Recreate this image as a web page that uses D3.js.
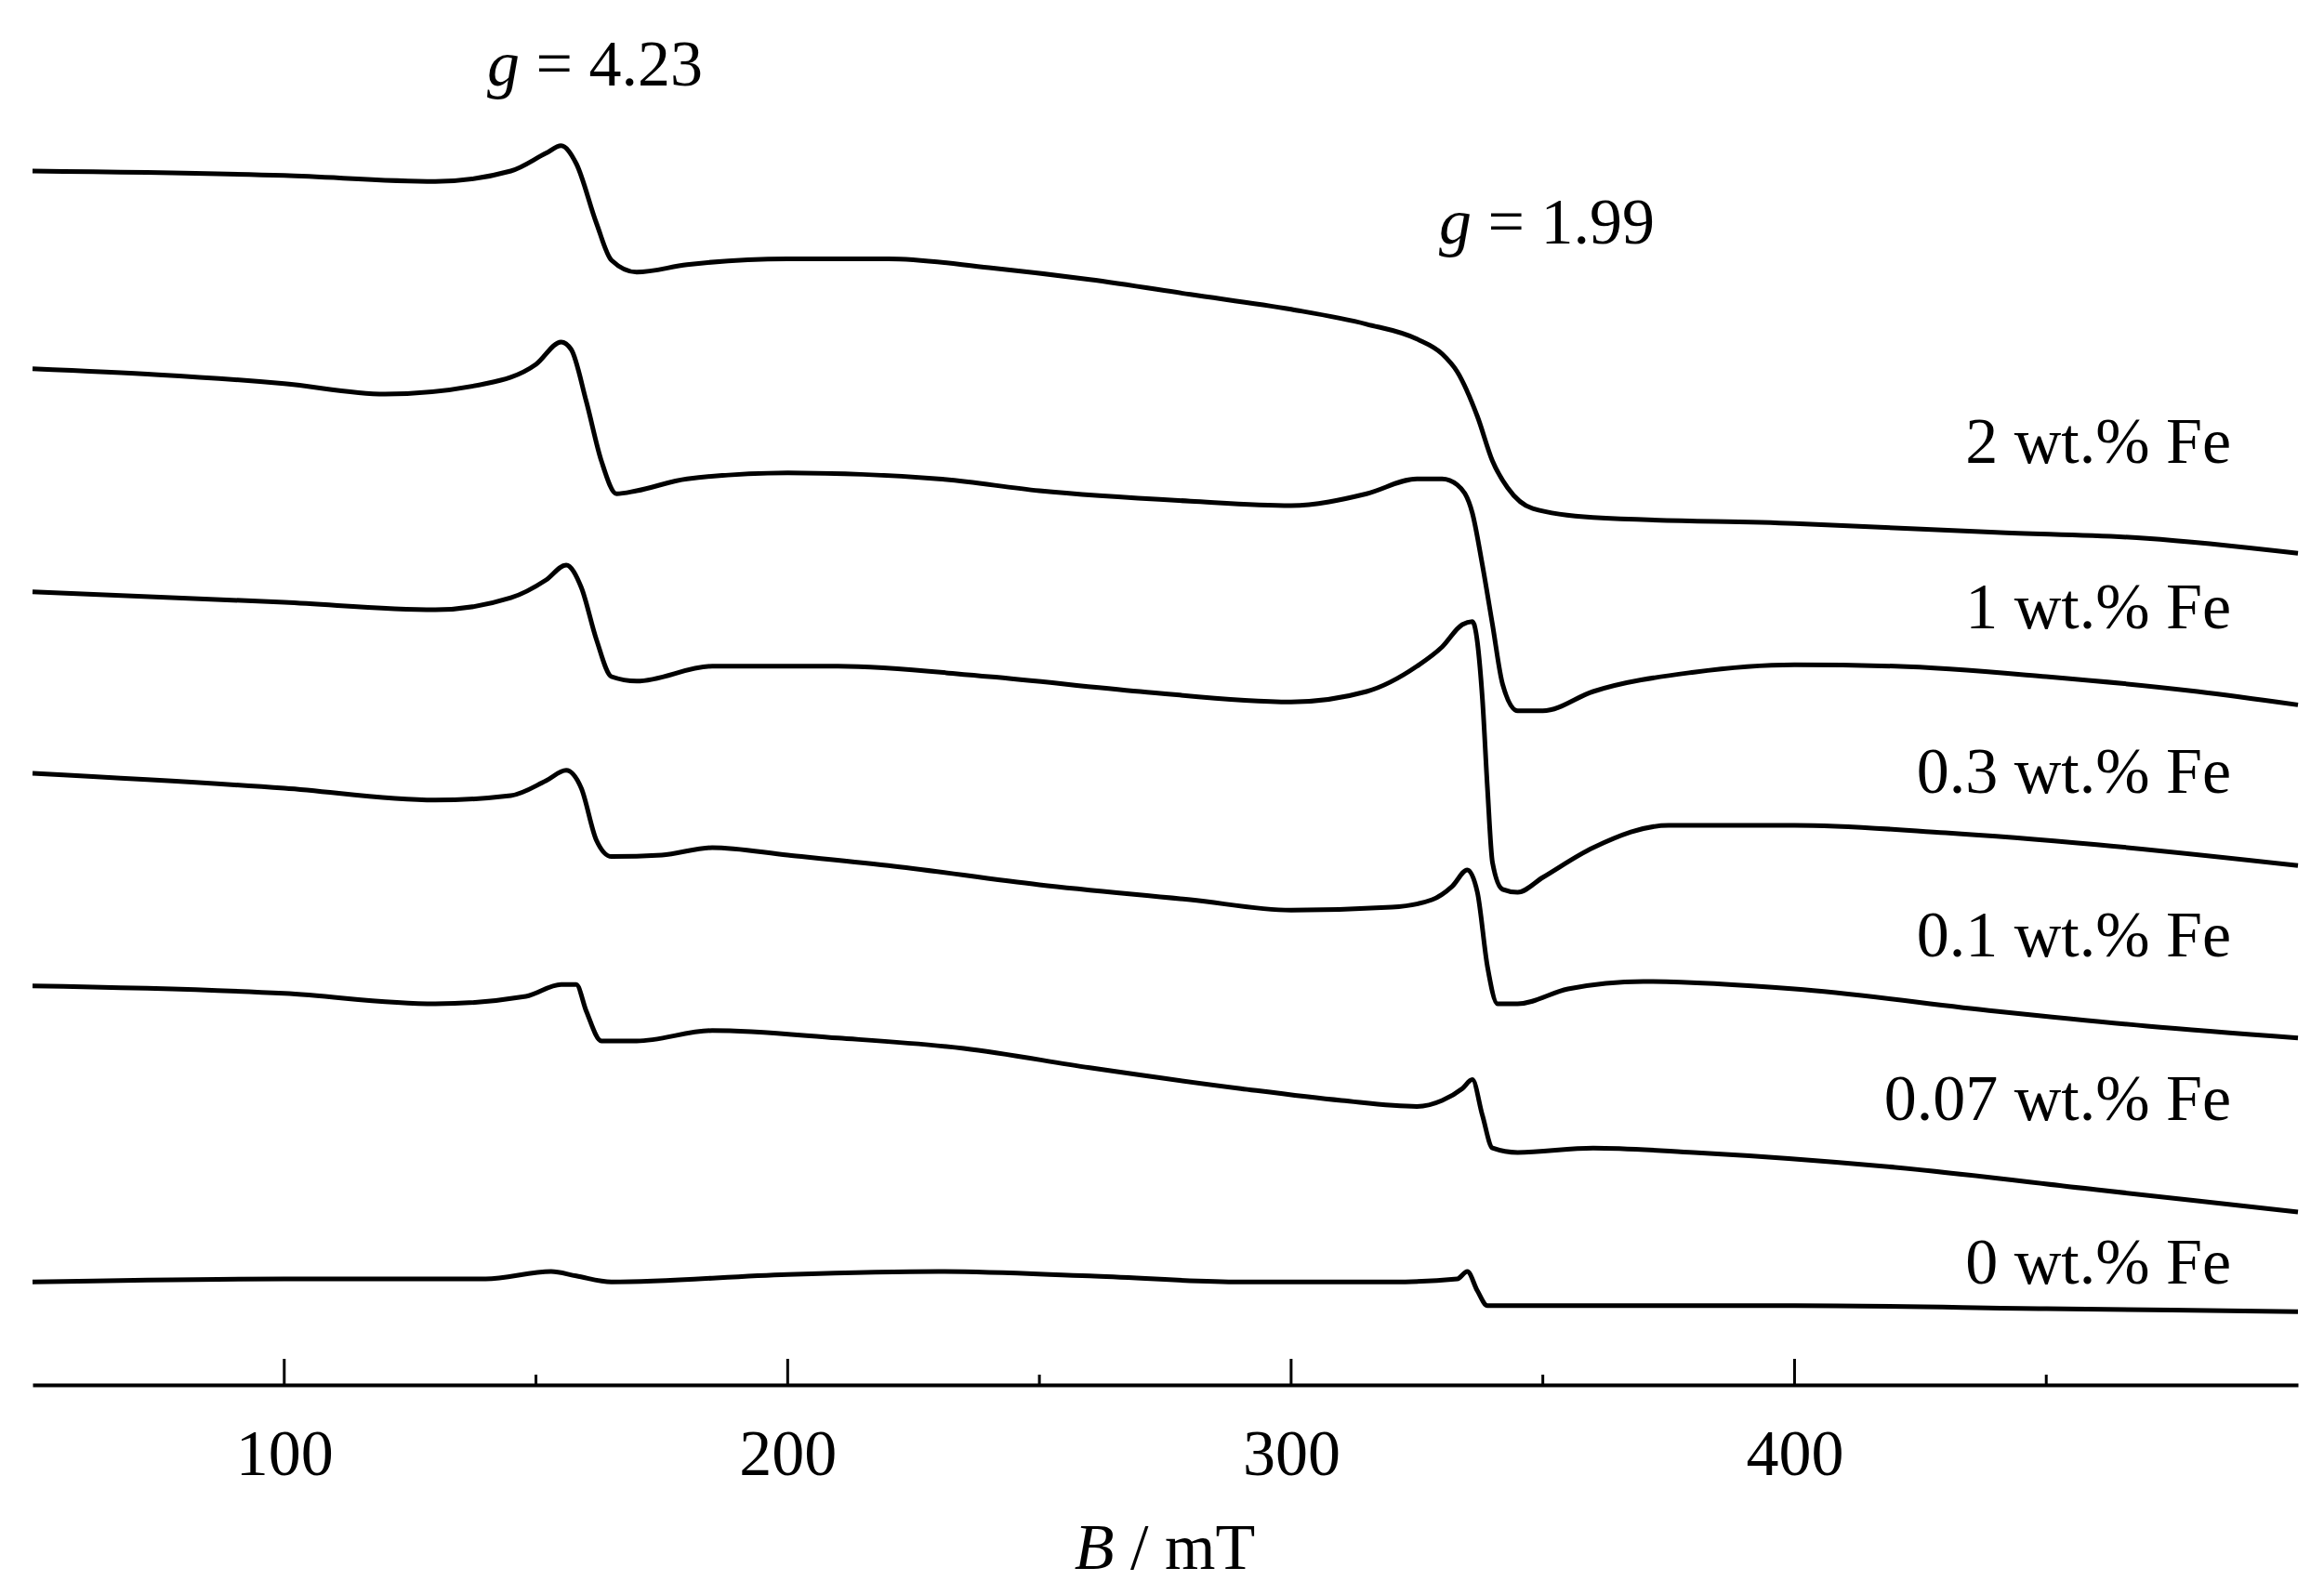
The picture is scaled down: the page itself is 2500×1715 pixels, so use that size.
<!DOCTYPE html>
<html><head><meta charset="utf-8">
<script src="https://cdn.jsdelivr.net/npm/d3@7"></script>
<style>body{margin:0;background:#fff}text{font-family:"Liberation Serif","Times New Roman",serif;fill:#000}</style>
</head><body><svg id="c" width="2500" height="1715"></svg>
<script>
const seriesNames = ["2 wt.% Fe","1 wt.% Fe","0.3 wt.% Fe","0.1 wt.% Fe","0.07 wt.% Fe","0 wt.% Fe"];
// [B (mT), vertical position in arbitrary units (screen-down, offsets included)]
const s2 = [[50,115],[100,118],[130,122],[145,115],[152,103],[155,98],[158,110],[162,150],[165,175],[170,183],[180,178],[200,174],[220,174],[240,180],[260,188],[280,198],[300,208],[315,218],[325,228],[330,238],[333,250],[337,280],[340,310],[343,328],[348,342],[360,348],[400,352],[440,358],[470,362],[500,372]];
const s1 = [[50,248],[100,258],[120,265],[140,258],[150,245],[155,230],[157,235],[160,270],[163,310],[166,332],[170,330],[180,322],[200,318],[230,322],[250,330],[280,337],[300,340],[315,332],[325,322],[330,322],[333,326],[336,345],[338,380],[340,420],[342,460],[345,478],[350,478],[360,465],[380,452],[400,447],[420,448],[450,455],[480,465],[500,474]];
const s03 = [[50,398],[100,405],[130,410],[145,402],[152,390],[156,380],[159,395],[162,430],[165,455],[170,458],[185,448],[210,448],[240,455],[270,465],[300,472],[315,465],[325,448],[330,435],[334,420],[336,418],[338,470],[339,530],[340,580],[342,598],[345,600],[350,590],[360,570],[375,555],[400,555],[430,560],[460,568],[500,582]];
const s01 = [[50,520],[100,530],[130,538],[145,535],[152,525],[156,518],[159,530],[162,565],[165,576],[175,575],[185,570],[200,575],[220,582],[250,595],[280,605],[300,612],[320,610],[328,605],[332,596],[335,585],[337,600],[339,650],[341,675],[345,675],[355,665],[370,660],[400,665],[440,680],[470,690],[500,698]];
const s007 = [[50,663],[100,668],[130,675],[148,670],[155,662],[158,662],[160,680],[163,700],[170,700],[185,693],[210,698],[235,705],[260,718],[290,732],[310,740],[325,744],[330,740],[334,732],[336,726],[338,750],[340,772],[345,775],[360,772],[380,775],[420,785],[460,800],[500,815]];
const s0 = [[50,862],[100,860],[140,860],[153,855],[158,858],[165,862],[200,857],[230,855],[260,858],[290,862],[320,862],[333,860],[335,855],[337,868],[339,878],[360,878],[400,878],[450,880],[500,882]];
const seriesData = [s2,s1,s03,s01,s007,s0];
const labelPos = [296,407,518,628,738,848];
const majorTicks = [100,200,300,400];
const minorTicks = [150,250,350,450];

const svg = d3.select("#c");
const x = d3.scaleLinear().domain([50,500]).range([35,2472]);
const y = d3.scaleLinear().domain([0,940]).range([0,1504]);
const axisY = 1490;

const line = d3.line().x(d=>x(d[0])).y(d=>y(d[1])).curve(d3.curveMonotoneX);
svg.selectAll("path.tr").data(seriesData).join("path").attr("class","tr")
  .attr("d",line).attr("fill","none").attr("stroke","#000").attr("stroke-width",5).attr("stroke-linejoin","round");

svg.selectAll("text.lab").data(seriesNames).join("text").attr("class","lab")
  .attr("x",2400).attr("y",(d,i)=>y(labelPos[i])).attr("dy","0.35em")
  .attr("text-anchor","end").attr("font-size",70).text(d=>d);

const ax = svg.append("g").attr("transform",`translate(0,${axisY})`);
ax.call(d3.axisBottom(x).tickValues(majorTicks).tickSize(0).tickPadding(72).tickFormat(d3.format("d")));
ax.select(".domain").attr("stroke-width",4);
ax.selectAll(".tick text").attr("font-size",70).attr("font-family",'"Liberation Serif",serif').attr("dy","0.35em");
ax.selectAll("line.maj").data(majorTicks).join("line").attr("class","maj")
  .attr("x1",d=>x(d)).attr("x2",d=>x(d)).attr("y1",0).attr("y2",-28).attr("stroke","#000").attr("stroke-width",3);
ax.selectAll("line.min").data(minorTicks).join("line").attr("class","min")
  .attr("x1",d=>x(d)).attr("x2",d=>x(d)).attr("y1",0).attr("y2",-11).attr("stroke","#000").attr("stroke-width",3);

const t = svg.append("text").attr("x",1253).attr("y",1663).attr("dy","0.35em").attr("text-anchor","middle").attr("font-size",70);
t.append("tspan").attr("font-style","italic").text("B");
t.append("tspan").text(" / mT");

function gLabel(xp,yp,val){
  const g = svg.append("text").attr("x",xp).attr("y",yp).attr("dy","0.35em").attr("text-anchor","middle").attr("font-size",70);
  g.append("tspan").attr("font-style","italic").text("g");
  g.append("tspan").text(" = "+val);
}
gLabel(640,67,"4.23");
gLabel(1664,237,"1.99");
</script></body></html>
